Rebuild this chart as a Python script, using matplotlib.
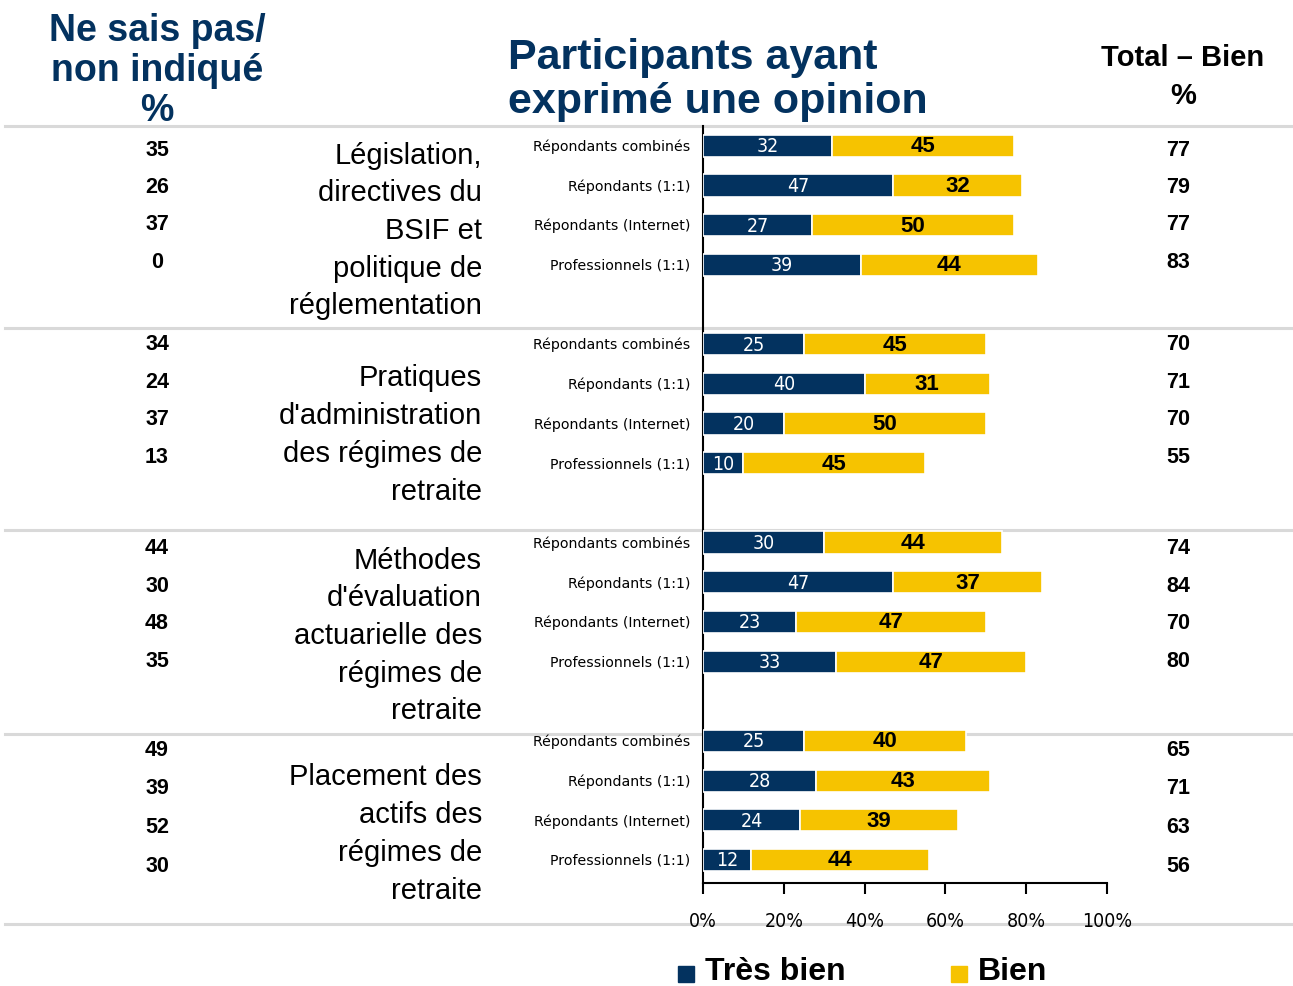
import matplotlib
matplotlib.use("Agg")
import matplotlib.pyplot as plt
from matplotlib.lines import Line2D
from matplotlib.patches import Rectangle

# ---- data ----
groups = [
    "Législation,\ndirectives du\nBSIF et\npolitique de\nréglementation",
    "Pratiques\nd'administration\ndes régimes de\nretraite",
    "Méthodes\nd'évaluation\nactuarielle des\nrégimes de\nretraite",
    "Placement des\nactifs des\nrégimes de\nretraite",
]
rows = ["Répondants combinés", "Répondants (1:1)", "Répondants (Internet)", "Professionnels (1:1)"]

tres_bien = [[32, 47, 27, 39], [25, 40, 20, 10], [30, 47, 23, 33], [25, 28, 24, 12]]
bien = [[45, 32, 50, 44], [45, 31, 50, 45], [44, 37, 47, 47], [40, 43, 39, 44]]
ne_sais_pas = [[35, 26, 37, 0], [34, 24, 37, 13], [44, 30, 48, 35], [49, 39, 52, 30]]
total_bien = [[77, 79, 77, 83], [70, 71, 70, 55], [74, 84, 70, 80], [65, 71, 63, 56]]

xticks = [0, 20, 40, 60, 80, 100]
xtick_labels = ["0%", "20%", "40%", "60%", "80%", "100%"]

NAVY = "#03325F"
YELLOW = "#F6C300"
GREY = "#D9D9D9"
SANS = ["Liberation Sans", "DejaVu Sans"]

W, H = 1293, 987


def fx(x):
    return x / W


def fy(y):
    return 1 - y / H


fig = plt.figure(figsize=(W / 100, H / 100), dpi=100)

# separators
for y in [127, 329, 531, 735, 925]:
    fig.add_artist(Line2D([fx(5), 1], [fy(y), fy(y)], color=GREY, lw=2.2, zorder=0))

ax = fig.add_axes([fx(703), fy(884), fx(1107) - fx(703), (884 - 127) / H])
ax.set_facecolor("none")
ax.set_xlim(0, 100)
ax.set_ylim(18.58, -0.5)

for g in range(4):
    for i in range(4):
        y = g * 5 + i
        tb = tres_bien[g][i]
        b = bien[g][i]
        ax.barh(y, tb, height=0.56, color=NAVY, edgecolor="white", lw=1.2, zorder=3)
        ax.barh(y, b, left=tb, height=0.56, color=YELLOW, edgecolor="white", lw=1.2, zorder=3)
        ax.text(tb / 2, y, str(tb), color="white", fontsize=14, ha="center", va="center",
                family="DejaVu Sans", stretch="condensed", zorder=4)
        ax.text(tb + b / 2, y, str(b), color="black", fontsize=16, fontweight="bold",
                ha="center", va="center", family=SANS, zorder=4)
        ax.text(-3.2, y, rows[i], fontsize=10.2, ha="right", va="center", family=["DejaVu Sans"])

for s in ["top", "right"]:
    ax.spines[s].set_visible(False)
ax.spines["left"].set_linewidth(1.5)
ax.spines["bottom"].set_linewidth(1.5)
ax.set_yticks([])
ax.set_xticks(xticks)
ax.set_xticklabels(xtick_labels, family="DejaVu Sans", stretch="condensed", fontsize=14)
ax.tick_params(axis="x", direction="out", length=8, width=1.5, pad=12)

# side columns
group_top = [150, 345, 549, 750]
group_step = [37.5, 37.5, 37.5, 39]
for g in range(4):
    for i in range(4):
        y = group_top[g] + i * group_step[g]
        fig.text(fx(157), fy(y), str(ne_sais_pas[g][i]), fontsize=15.5, fontweight="bold",
                 ha="center", va="center", family=SANS)
        fig.text(fx(1178), fy(y), str(total_bien[g][i]), fontsize=15.5, fontweight="bold",
                 ha="center", va="center", family=SANS)

# group labels
group_center = [231, 435, 636, 834]
for g in range(4):
    fig.text(fx(482), fy(group_center[g]), groups[g], fontsize=21, ha="right", va="center",
             linespacing=1.44, family=SANS)

# headers
fig.text(fx(157), fy(71), "Ne sais pas/\nnon indiqué\n%", fontsize=27, fontweight="bold",
         color=NAVY, ha="center", va="center", linespacing=1.16, family=SANS)
fig.text(fx(508), fy(80), "Participants ayant\nexprimé une opinion", fontsize=31,
         fontweight="bold", color=NAVY, ha="left", va="center", linespacing=1.11, family=SANS)
fig.text(fx(1183), fy(77), "Total – Bien\n%", fontsize=21, fontweight="bold",
         color="black", ha="center", va="center", linespacing=1.45, family=SANS)

# legend
fig.add_artist(Rectangle((fx(678), fy(983)), 16 / W, 16 / H, color=NAVY))
fig.text(fx(705), fy(980), "Très bien", fontsize=23, fontweight="bold", ha="left",
         va="baseline", family=SANS)
fig.add_artist(Rectangle((fx(951), fy(983)), 16 / W, 16 / H, color=YELLOW))
fig.text(fx(978), fy(980), "Bien", fontsize=23, fontweight="bold", ha="left",
         va="baseline", family=SANS)

fig.savefig("out.png", dpi=100)
